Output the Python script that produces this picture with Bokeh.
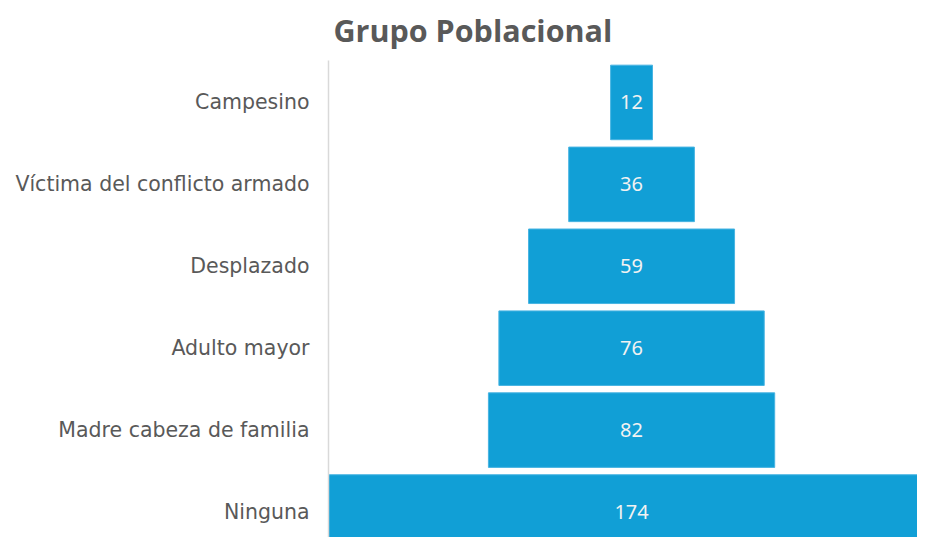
from bokeh.plotting import figure
from bokeh.models import Range1d, FixedTicker, ColumnDataSource, Title
from bokeh.core.properties import value
from bokeh.embed import file_html
from bokeh.resources import INLINE

categories = ["Ninguna", "Madre cabeza de familia", "Adulto mayor", "Desplazado",
              "Víctima del conflicto armado", "Campesino"]
counts = [174, 82, 76, 59, 36, 12]
title_text = "Grupo Poblacional"

pos = list(range(len(categories)))
src = ColumnDataSource(dict(
    y=pos,
    left=[-c / 2 for c in counts],
    right=[c / 2 for c in counts],
    txt=[str(c) for c in counts],
    cx=[0] * len(counts),
))

xr = Range1d(-86.8, 81.9)
yr = Range1d(-0.311, 5.512)
p = figure(width=917, height=537, output_backend="svg", toolbar_location=None,
           x_range=xr, y_range=yr,
           min_border_left=328, min_border_right=0, min_border_top=60, min_border_bottom=0)

p.hbar(y="y", left="left", right="right", height=0.91, source=src,
       fill_color="#119FD6", line_color="#48B4E2", line_width=1)
p.text(x="cx", y="y", text="txt", source=src, text_align="center", text_baseline="middle",
       text_color="#F2F2F2", text_font_size="20px", text_font=value("Noto Sans"))

p.xaxis.visible = False
p.xgrid.visible = False
p.ygrid.visible = False
p.outline_line_color = None

ya = p.yaxis[0]
ya.ticker = FixedTicker(ticks=pos)
ya.major_label_overrides = {i: c for i, c in zip(pos, categories)}
ya.major_tick_line_color = None
ya.minor_tick_line_color = None
ya.axis_line_color = "#D9D9D9"
ya.axis_line_width = 1.5
ya.major_label_text_color = "#595959"
ya.major_label_text_font = "DejaVu Sans"
ya.major_label_text_font_size = "20.5px"
ya.major_label_standoff = 13

p.title = Title(text=title_text, align="left", offset=5, standoff=16, vertical_align="top",
                text_font="Open Sans", text_font_style="bold", text_font_size="30.5px",
                text_color="#595959")

open("out.html", "w").write(file_html(p, INLINE))
